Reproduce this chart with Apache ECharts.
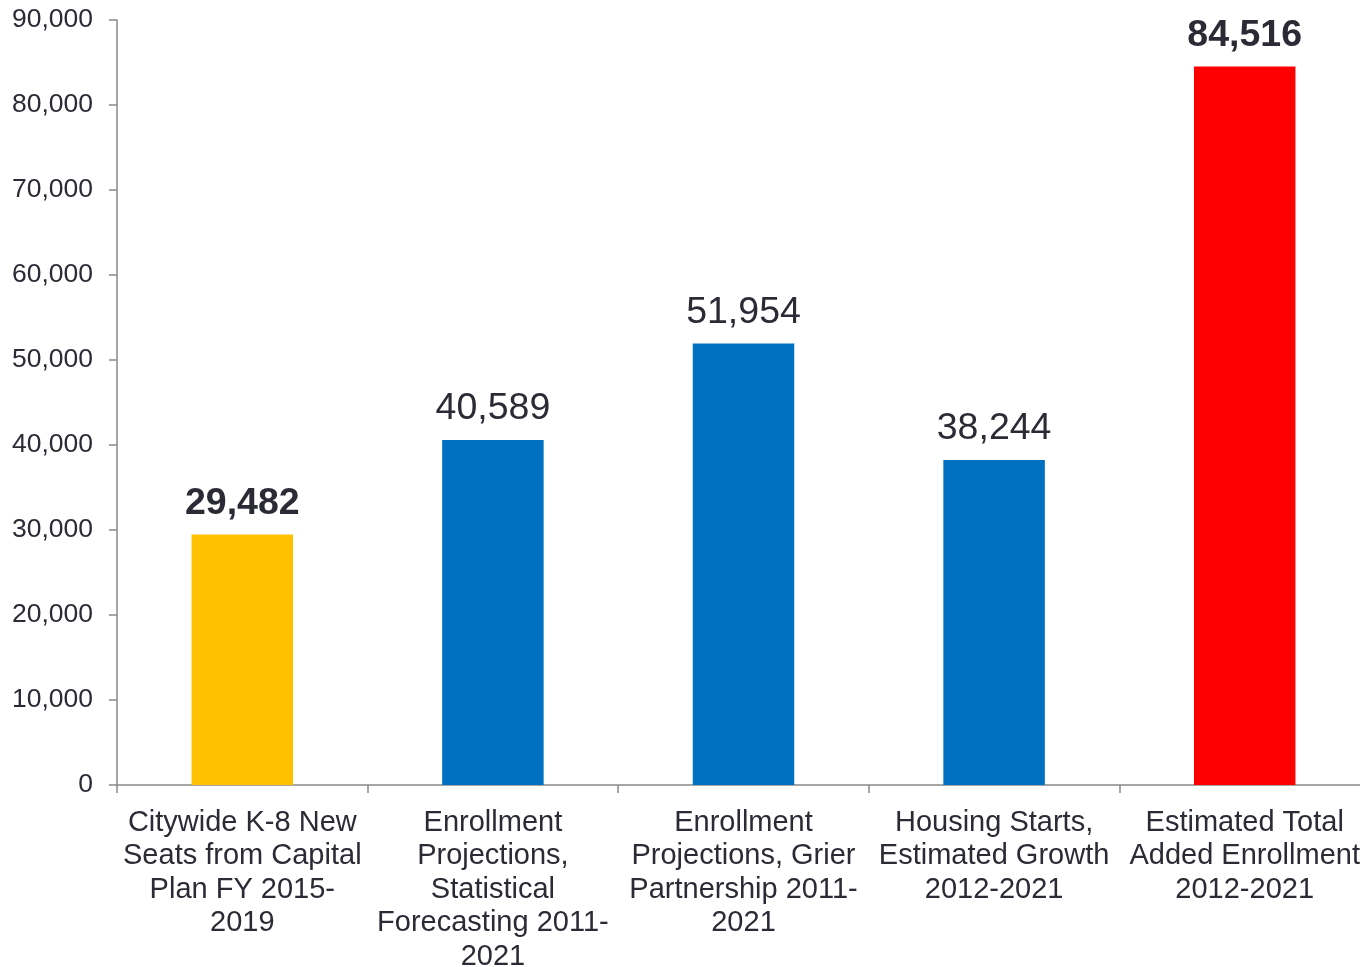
<!DOCTYPE html>
<html>
<head>
<meta charset="utf-8">
<script src="https://cdn.jsdelivr.net/npm/echarts@6/dist/echarts.min.js"></script>
<style>
html,body{margin:0;padding:0;background:#fff;}
#chart{width:1360px;height:967px;}
</style>
</head>
<body>
<div id="chart"></div>
<script>
const categories = [
  "Citywide K-8 New\nSeats from Capital\nPlan FY 2015-\n2019",
  "Enrollment\nProjections,\nStatistical\nForecasting 2011-\n2021",
  "Enrollment\nProjections, Grier\nPartnership 2011-\n2021",
  "Housing Starts,\nEstimated Growth\n2012-2021",
  "Estimated Total\nAdded Enrollment\n2012-2021"
];
const values = [29482, 40589, 51954, 38244, 84516];
const barColors = ["#FFC000", "#0070C0", "#0070C0", "#0070C0", "#FF0000"];
const boldLabels = [true, false, false, false, true];
const yTicks = [0, 10000, 20000, 30000, 40000, 50000, 60000, 70000, 80000, 90000];

const textColor = "#2b2b36";
const axisColor = "#898989";
const fontFamily = "Liberation Sans, Arial, sans-serif";

const chart = echarts.init(document.getElementById('chart'), null, {renderer: 'canvas'});
chart.setOption({
  animation: false,
  backgroundColor: '#ffffff',
  grid: {left: 117, top: 20, height: 765, width: 1253, containLabel: false, outerBoundsMode: 'none'},
  xAxis: {
    type: 'category',
    data: categories,
    axisLine: {show: true, lineStyle: {color: axisColor, width: 1.5}},
    axisTick: {show: true, length: 8, alignWithLabel: false, lineStyle: {color: axisColor, width: 1.5}},
    axisLabel: {
      interval: 0,
      margin: 21,
      color: textColor,
      fontFamily: fontFamily,
      fontSize: 29,
      lineHeight: 33.5
    }
  },
  yAxis: {
    type: 'value',
    min: yTicks[0],
    max: yTicks[yTicks.length - 1],
    interval: yTicks[1] - yTicks[0],
    splitLine: {show: false},
    axisLine: {show: true, lineStyle: {color: axisColor, width: 1.5}},
    axisTick: {show: true, length: 8, inside: false, lineStyle: {color: axisColor, width: 1.5}},
    axisLabel: {
      margin: 24,
      color: textColor,
      fontFamily: fontFamily,
      fontSize: 26.5,
      formatter: v => v.toLocaleString('en-US')
    }
  },
  series: [{
    type: 'bar',
    barWidth: '40.5%',
    data: values.map((v, i) => ({
      value: v,
      itemStyle: {color: barColors[i]},
      label: {fontWeight: boldLabels[i] ? 'bold' : 'normal'}
    })),
    label: {
      show: true,
      position: 'top',
      distance: 12,
      color: textColor,
      fontFamily: fontFamily,
      fontSize: 37.5,
      formatter: p => p.value.toLocaleString('en-US')
    }
  }]
});
</script>
</body>
</html>
